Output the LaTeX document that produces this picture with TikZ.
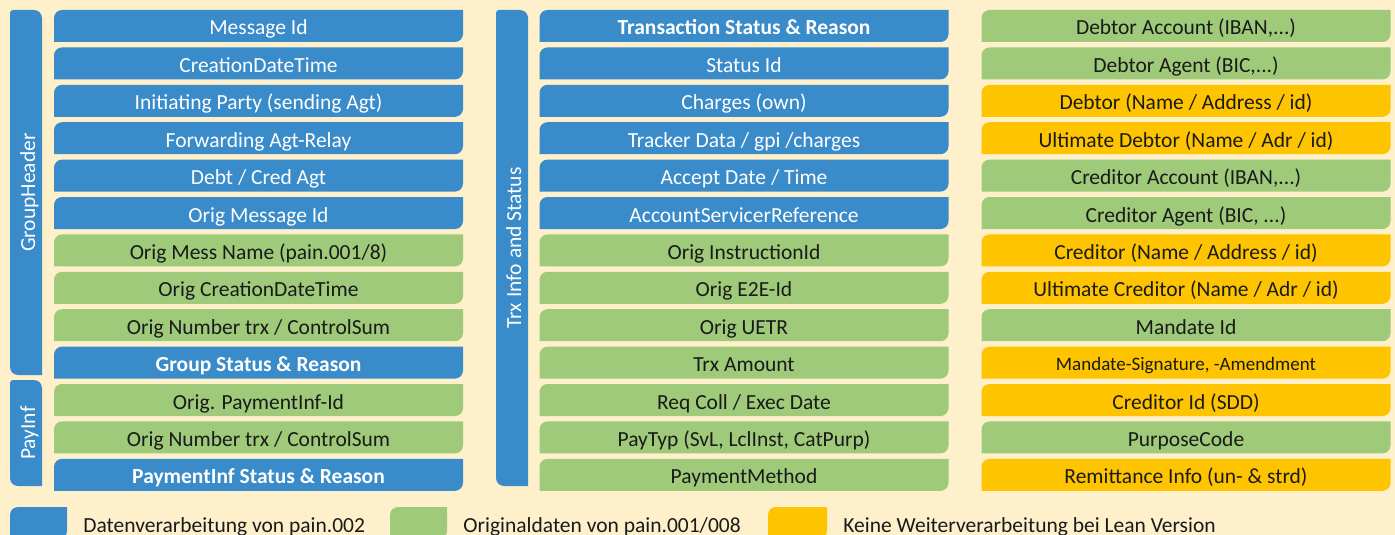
\documentclass[tikz,border=0pt]{standalone}
\usepackage{fontspec}
\setmainfont{Carlito}
\usetikzlibrary{positioning}

\definecolor{bgcream}{RGB}{255,240,204}
\definecolor{dvblue}{RGB}{58,139,202}
\definecolor{odgreen}{RGB}{158,202,122}
\definecolor{kwyellow}{RGB}{255,196,0}
\definecolor{txtdark}{RGB}{26,26,26}

\tikzset{
  leaf/.style={inner sep=0pt, minimum height=32pt, text height=18pt, text depth=0pt,
    font=\fontsize{21.5pt}{26pt}\selectfont,
    path picture={\fill[#1] (path picture bounding box.south west)
      -- ([yshift=-8pt]path picture bounding box.north west)
      arc[start angle=180, end angle=90, radius=8pt]
      -- (path picture bounding box.north east)
      -- ([yshift=8pt]path picture bounding box.south east)
      arc[start angle=0, end angle=-90, radius=8pt] -- cycle;}},
  row/.style={minimum width=409pt},
  bluebox/.style={row, leaf=dvblue, text=white},
  greenbox/.style={row, leaf=odgreen, text=txtdark},
  yellowbox/.style={row, leaf=kwyellow, text=txtdark},
  sidetext/.style={rotate=90, inner sep=0pt, text=white, text height=18pt, text depth=0pt,
    font=\fontsize{21.5pt}{26pt}\selectfont},
  legendtext/.style={inner sep=0pt, text=txtdark, text height=18pt, text depth=0pt,
    font=\fontsize{21.5pt}{26pt}\selectfont},
}

\begin{document}
\begin{tikzpicture}[x=1pt, y=-1pt]
    \clip (0,0) rectangle (1395,535);
    \fill[bgcream] (0,0) rectangle (1395,535);

    % Side bars
    \fill[dvblue] (10,13) arc[start angle=180, end angle=270, radius=3] -- (34,10)
      arc[start angle=270, end angle=360, radius=8] -- (42,375) -- (18,375)
      arc[start angle=90, end angle=180, radius=8] -- cycle;
    \fill[dvblue] (10,383) arc[start angle=180, end angle=270, radius=3] -- (34,380)
      arc[start angle=270, end angle=360, radius=8] -- (42,486) -- (18,486)
      arc[start angle=90, end angle=180, radius=8] -- cycle;
    \fill[dvblue] (496,13) arc[start angle=180, end angle=270, radius=3] -- (520,10)
      arc[start angle=270, end angle=360, radius=8] -- (528,486) -- (504,486)
      arc[start angle=90, end angle=180, radius=8] -- cycle;
    \node[sidetext] (ghlabel) at (26,192.5) {GroupHeader};
    \node[sidetext] (pilabel) at (26,433) {PayInf};
    \node[sidetext] (txlabel) at (512,248) {Trx Info and Status};

    % Group header / payment info
    \node[bluebox] (gh1) at (258.5,26) {Message Id};
    \node[bluebox, below=5pt of gh1] (gh2) {CreationDateTime};
    \node[bluebox, below=5pt of gh2] (gh3) {Initiating Party (sending Agt)};
    \node[bluebox, below=5pt of gh3] (gh4) {Forwarding Agt-Relay};
    \node[bluebox, below=5pt of gh4] (gh5) {Debt / Cred Agt};
    \node[bluebox, below=5pt of gh5] (gh6) {Orig Message Id};
    \node[greenbox, below=5pt of gh6] (gh7) {Orig Mess Name (pain.001/8)};
    \node[greenbox, below=5pt of gh7] (gh8) {Orig CreationDateTime};
    \node[greenbox, below=5pt of gh8] (gh9) {Orig Number trx / ControlSum};
    \node[bluebox, below=5pt of gh9] (gh10) {\bfseries Group Status \& Reason};
    \node[greenbox, below=5pt of gh10] (pi1) {Orig. PaymentInf-Id};
    \node[greenbox, below=5pt of pi1] (pi2) {Orig Number trx / ControlSum};
    \node[bluebox, below=5pt of pi2] (pi3) {\bfseries PaymentInf Status \& Reason};

    % Transaction info
    \node[bluebox] (tx1) at (744,26) {\bfseries Transaction Status \& Reason};
    \node[bluebox, below=5pt of tx1] (tx2) {Status Id};
    \node[bluebox, below=5pt of tx2] (tx3) {Charges (own)};
    \node[bluebox, below=5pt of tx3] (tx4) {Tracker Data / gpi /charges};
    \node[bluebox, below=5pt of tx4] (tx5) {Accept Date / Time};
    \node[bluebox, below=5pt of tx5] (tx6) {AccountServicerReference};
    \node[greenbox, below=5pt of tx6] (tx7) {Orig InstructionId};
    \node[greenbox, below=5pt of tx7] (tx8) {Orig E2E-Id};
    \node[greenbox, below=5pt of tx8] (tx9) {Orig UETR};
    \node[greenbox, below=5pt of tx9] (tx10) {Trx Amount};
    \node[greenbox, below=5pt of tx10] (tx11) {Req Coll / Exec Date};
    \node[greenbox, below=5pt of tx11] (tx12) {PayTyp (SvL, LclInst, CatPurp)};
    \node[greenbox, below=5pt of tx12] (tx13) {PaymentMethod};

    % Parties
    \node[greenbox] (pt1) at (1186,26) {Debtor Account (IBAN,...)};
    \node[greenbox, below=5pt of pt1] (pt2) {Debtor Agent (BIC,...)};
    \node[yellowbox, below=5pt of pt2] (pt3) {Debtor (Name / Address / id)};
    \node[yellowbox, below=5pt of pt3] (pt4) {Ultimate Debtor (Name / Adr / id)};
    \node[greenbox, below=5pt of pt4] (pt5) {Creditor Account (IBAN,...)};
    \node[greenbox, below=5pt of pt5] (pt6) {Creditor Agent (BIC, ...)};
    \node[yellowbox, below=5pt of pt6] (pt7) {Creditor (Name / Address / id)};
    \node[yellowbox, below=5pt of pt7] (pt8) {Ultimate Creditor (Name / Adr / id)};
    \node[greenbox, below=5pt of pt8] (pt9) {Mandate Id};
    \node[yellowbox, below=5pt of pt9, text height=15.5pt, font=\fontsize{19pt}{23pt}\selectfont] (pt10) {Mandate-Signature, -Amendment};
    \node[yellowbox, below=5pt of pt10] (pt11) {Creditor Id (SDD)};
    \node[greenbox, below=5pt of pt11] (pt12) {PurposeCode};
    \node[yellowbox, below=5pt of pt12] (pt13) {Remittance Info (un- \& strd)};

    % Legend
    \node[leaf=dvblue, minimum width=57pt] (lgblue) at (38.5,523) {};
    \node[legendtext, right=16pt of lgblue] (lgbluetext) {Datenverarbeitung von pain.002};
    \node[leaf=odgreen, minimum width=57pt] (lggreen) at (418.5,523) {};
    \node[legendtext, right=16pt of lggreen] (lggreentext) {Originaldaten von pain.001/008};
    \node[leaf=kwyellow, minimum width=59pt] (lgyellow) at (797.5,523) {};
    \node[legendtext, right=16pt of lgyellow] (lgyellowtext) {Keine Weiterverarbeitung bei Lean Version};
\end{tikzpicture}
\end{document}
